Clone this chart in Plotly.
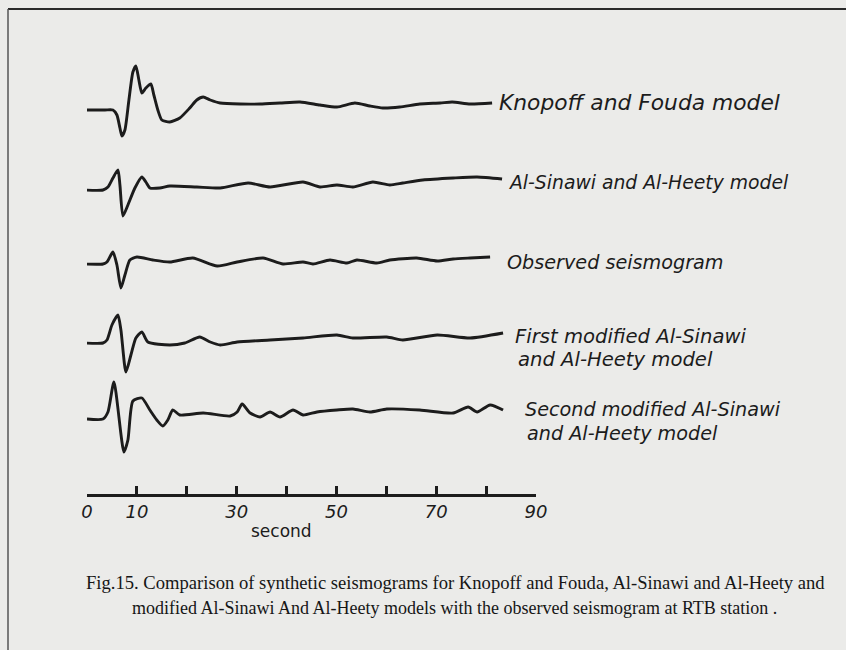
import plotly.graph_objects as go

# ---------------- data (time in seconds, relative amplitude) ----------------
knopoff_t = [-0.8, 3.6, 5.2, 6.0, 6.6, 7.0, 7.6, 8.4, 9.2, 9.8, 10.4, 11.0, 11.8, 12.8, 13.4, 14.2, 15.0,
             16.6, 18.6, 20.6, 22.0, 23.3, 24.7, 26.7, 30.7, 34.7, 38.7, 42.7, 46.7, 50.1, 53.7, 56.7,
             59.3, 62.7, 66.7, 70.8, 73.2, 76.8, 81.2]
knopoff_a = [-1, -1, -1, -6, -19, -27, -21, 9, 37, 43, 29, 16, 21, 25, 14, -1, -11,
             -13, -9, 1, 9, 12, 9, 6, 5, 5, 6, 7, 4, 2, 6, 3,
             1, 2, 5, 6, 7, 5, 6]

sinawi_t = [-0.8, 3.2, 4.2, 5.2, 6.2, 6.6, 7.2, 8.2, 9.6, 11.0, 11.8, 12.6, 14.6, 16.6, 22.0, 26.7,
            32.3, 36.7, 43.3, 46.7, 50.1, 53.3, 57.3, 60.7, 63.3, 67.3, 73.4, 78.2, 83.2]
sinawi_a = [-1, -1, 2, 11, 19, 4, -27, -16, 1, 12, 7, 1, 1, 3, 2, 1,
            6, 2, 7, 2, 4, 2, 7, 4, 6, 9, 11, 12, 10]

observed_t = [-0.8, 3.2, 4.0, 5.2, 6.0, 6.8, 7.6, 8.6, 10.0, 13.2, 16.6, 21.2, 26.1, 30.1, 35.3, 39.3,
              43.3, 45.3, 48.7, 52.1, 54.1, 58.1, 60.7, 66.1, 70.2, 73.4, 76.8, 80.8]
observed_a = [0, 0, 2, 12, -1, -24, -11, 4, 7, 4, 2, 6, -2, 2, 6, 0,
              2, 0, 4, 1, 4, 1, 4, 6, 3, 5, 6, 7]

first_t = [-0.8, 3.2, 4.0, 5.0, 6.2, 6.8, 7.8, 8.8, 9.8, 11.0, 12.2, 16.6, 19.6, 22.6, 24.7, 26.7,
           30.1, 36.7, 43.3, 50.1, 53.3, 60.1, 63.3, 70.2, 76.8, 83.4]
first_a = [0, 0, 3, 18, 28, 13, -29, -12, 5, 11, 1, -2, 0, 6, 1, -2,
           1, 3, 5, 8, 5, 6, 3, 8, 5, 10]

second_t = [0.0, 3.2, 4.2, 5.4, 7.4, 8.2, 9.2, 11.0, 12.6, 14.0, 15.2, 16.2, 17.2, 18.6, 23.3, 28.7,
            30.1, 31.1, 32.7, 34.7, 36.7, 38.7, 41.3, 43.3, 46.1, 50.1, 53.3, 56.7, 60.1, 66.7,
            73.4, 76.4, 78.2, 80.8, 83.4]
second_a = [-1, -1, 6, 36, -34, -22, 17, 20, 8, -2, -8, -2, 8, 3, 5, 2,
            6, 14, 5, 1, 6, 1, 8, 3, 6, 8, 9, 6, 9, 8,
            5, 11, 6, 13, 8]

tick_values = [0, 10, 20, 30, 40, 50, 60, 70, 80, 90]
tick_labels = ["0", "10", "", "30", "", "50", "", "70", "", "90"]
axis_title = "second"

series_names = [
    ["Knopoff and Fouda model"],
    ["Al-Sinawi and Al-Heety model"],
    ["Observed seismogram"],
    ["First modified Al-Sinawi", "and Al-Heety model"],
    ["Second modified Al-Sinawi", "and Al-Heety model"],
]
series_t = [knopoff_t, sinawi_t, observed_t, first_t, second_t]
series_a = [knopoff_a, sinawi_a, observed_a, first_a, second_a]

caption1 = "Fig.15. Comparison of synthetic seismograms for Knopoff and Fouda, Al-Sinawi and Al-Heety and"
caption2 = "modified Al-Sinawi And Al-Heety models with the observed seismogram at RTB station ."

# ---------------- layout helpers ----------------
W, H = 846, 650
baselines = [109, 189, 264, 343, 418]           # vertical offsets (px-like units)
# label line anchors in pixel space (x px, y px) and font sizes
label_lines = [
    [(497, 102)],
    [(507, 182)],
    [(505, 262)],
    [(513, 336), (516, 359)],
    [(523, 409), (525, 433)],
]
label_sizes = [21.8, 18.8, 19.2, 19.6, 19.2]
INK = "#1c1c1c"
BG = "#ebebe9"
AX_L, AX_R, AX_Y = 87, 536, 495
px_per_s = (AX_R - AX_L) / 90.0

fig = go.Figure()
for names, t, a, base in zip(series_names, series_t, series_a, baselines):
    fig.add_trace(go.Scatter(
        x=t, y=[base - v for v in a], mode="lines", name=" ".join(names),
        line=dict(color=INK, width=2.9, shape="spline", smoothing=0.6),
        showlegend=False, hoverinfo="skip"))

ann = []
for names, pos, fs in zip(series_names, label_lines, label_sizes):
    for text, (px, py) in zip(names, pos):
        ann.append(dict(x=(px - AX_L) / px_per_s, y=py, xref="x", yref="y", text=text,
                        showarrow=False, xanchor="left", yanchor="middle", align="left",
                        font=dict(family="DejaVu Sans", size=fs, color=INK, style="italic")))
ann.append(dict(x=(281 - AX_L) / px_per_s, y=531, xref="x", yref="y", text=axis_title,
                showarrow=False, font=dict(family="DejaVu Sans", size=17, color=INK)))
ann.append(dict(x=84 / W, y=1 - 582 / H, xref="paper", yref="paper", text=caption1,
                showarrow=False, xanchor="left", yanchor="middle",
                font=dict(family="Liberation Serif", size=18.6, color="#161616")))
ann.append(dict(x=130 / W, y=1 - 608 / H, xref="paper", yref="paper", text=caption2,
                showarrow=False, xanchor="left", yanchor="middle",
                font=dict(family="Liberation Serif", size=18.0, color="#161616")))

fig.update_layout(
    width=W, height=H, autosize=False, margin=dict(l=0, r=0, t=0, b=0, pad=0, autoexpand=False),
    paper_bgcolor=BG, plot_bgcolor=BG,
    xaxis=dict(range=[0, 90], domain=[AX_L / W, AX_R / W], anchor="free", position=1 - AX_Y / H,
               tickvals=tick_values, ticktext=tick_labels, ticks="inside", ticklen=8,
               tickwidth=2.5, tickcolor=INK, showline=True, linewidth=2.5, linecolor=INK,
               showgrid=False, zeroline=False,
               tickfont=dict(family="DejaVu Sans", size=18, color=INK, style="italic")),
    yaxis=dict(range=[H, 0], visible=False, domain=[0, 1]),
    annotations=ann,
    shapes=[
        dict(type="line", xref="paper", yref="paper", x0=8 / W, x1=1, y0=1 - 9 / H, y1=1 - 9 / H,
             line=dict(color="#2a2a2a", width=2)),
        dict(type="line", xref="paper", yref="paper", x0=8 / W, x1=8 / W, y0=0, y1=1 - 9 / H,
             line=dict(color="#555555", width=1.5)),
    ],
)

fig.write_html("out.html",
               config={"displayModeBar": False, "responsive": False},
               default_width="846px", default_height="650px",
               post_script="document.body.style.margin='0';document.body.style.overflow='hidden';")
